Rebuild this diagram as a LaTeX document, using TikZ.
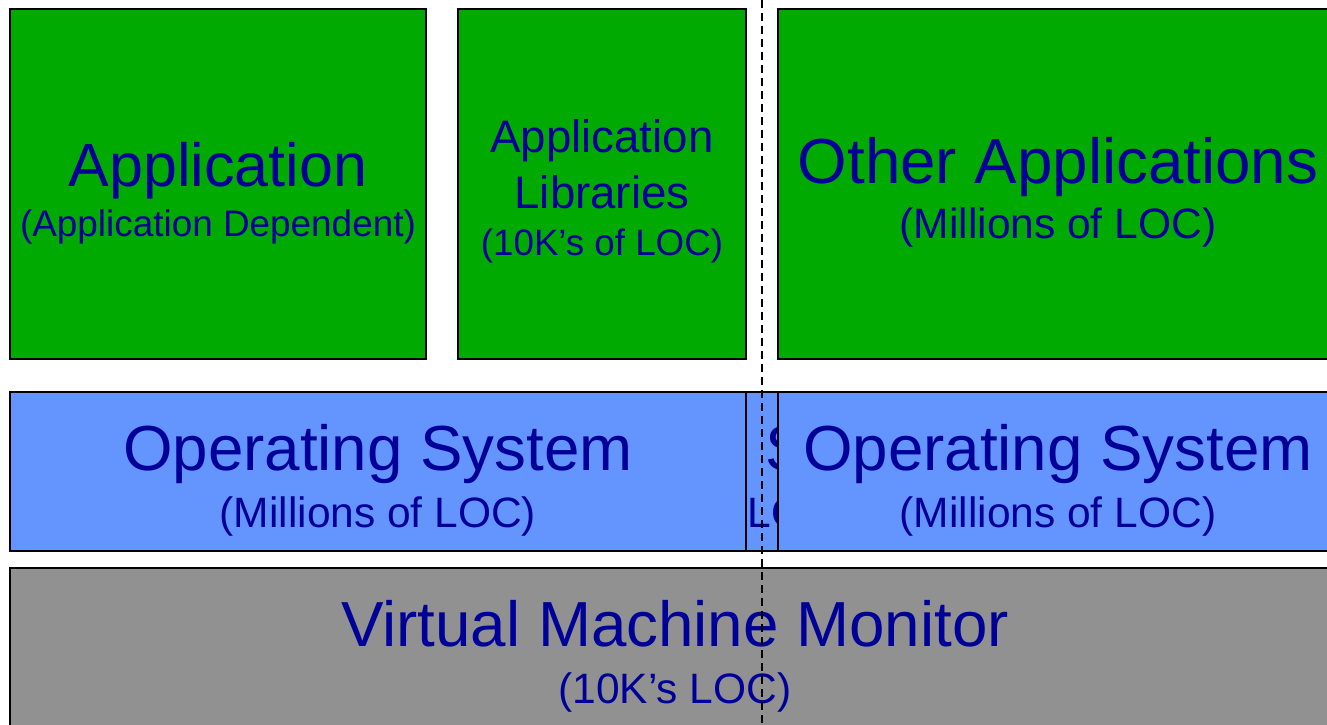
\documentclass[tikz,border=0pt]{standalone}
\usepackage{fontspec}
\setmainfont{Liberation Sans}
\definecolor{appgreen}{RGB}{0,170,0}
\definecolor{osblue}{RGB}{100,149,255}
\definecolor{vmmgray}{RGB}{145,145,145}
\definecolor{txtblue}{RGB}{0,0,153}
\tikzset{
  layerbox/.style={draw=black, line width=1.8pt},
  lbl/.style={anchor=base, text=txtblue, inner sep=0pt},
  big/.style={lbl, font=\fontsize{63.7}{64}\selectfont},
  sub/.style={lbl, font=\fontsize{42.5}{43}\selectfont},
  divider/.style={draw=black, line width=1.6pt, dash pattern=on 8pt off 5pt}
}
\begin{document}
\begin{tikzpicture}[x=1pt,y=-1pt]
\useasboundingbox (0,0) rectangle (1327,725);
\clip (0,0) rectangle (1327,725);
% green application row
\draw[layerbox, fill=appgreen] (10,9) rectangle (426,359);
\node[lbl, font=\fontsize{61}{61}\selectfont] (appt) at (218,186) {Application};
\node[lbl, font=\fontsize{36.9}{37}\selectfont] (apps) at (218,236) {(Application Dependent)};
\draw[layerbox, fill=appgreen] (458,9) rectangle (746,359);
\node[lbl, font=\fontsize{45.6}{46}\selectfont] (libt1) at (602,152) {Application};
\node[lbl, font=\fontsize{45.6}{46}\selectfont] (libt2) at (602,208) {Libraries};
\node[lbl, font=\fontsize{36.7}{37}\selectfont] (libs) at (602,255) {(10K’s of LOC)};
\draw[layerbox, fill=appgreen] (778,9) rectangle (1340,359);
\node[big] (otht) at (1058,183) {Other Applications};
\node[sub] (oths) at (1058,238) {(Millions of LOC)};
% hidden middle OS box (only a narrow strip shows)
\draw[layerbox, fill=osblue] (420,392) rectangle (1000,551);
\node[big] (hidt) at (723,470) {Operating System};
\node[sub] (hids) at (691,527) {(Millions of LOC)};
% OS row
\draw[layerbox, fill=osblue] (10,392) rectangle (746,551);
\node[big] (os1t) at (378,470) {Operating System};
\node[sub] (os1s) at (378,527) {(Millions of LOC)};
\draw[layerbox, fill=osblue] (778,392) rectangle (1340,551);
\node[big] (os2t) at (1058,470) {Operating System};
\node[sub] (os2s) at (1058,527) {(Millions of LOC)};
% VMM
\draw[layerbox, fill=vmmgray] (10,568) rectangle (1340,745);
\node[big] (vmmt) at (675,646) {Virtual Machine Monitor};
\node[sub] (vmms) at (675,703) {(10K’s LOC)};
% dashed divider
\coordinate (dtop) at (762,0);
\coordinate (dbot) at (762,725);
\draw[divider] (dtop) -- (dbot);
\end{tikzpicture}
\end{document}
